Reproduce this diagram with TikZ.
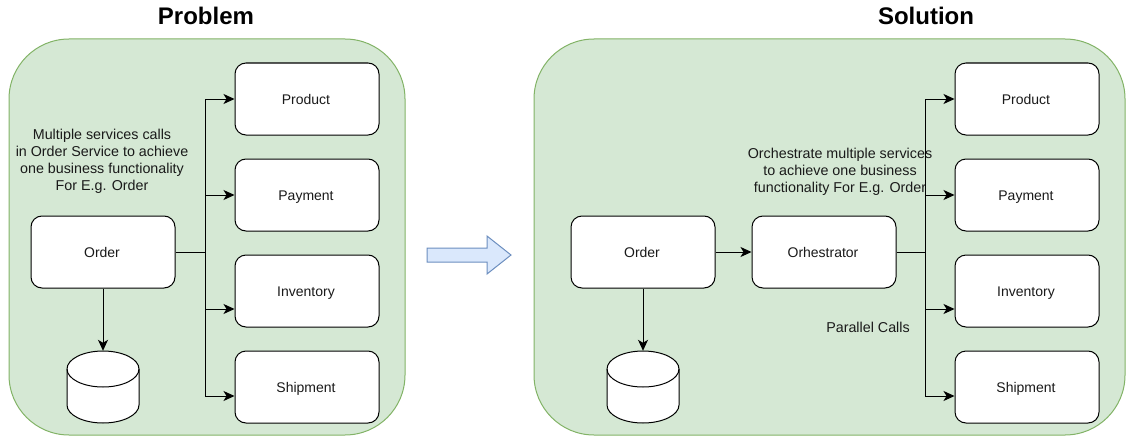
\documentclass[tikz,border=0pt]{standalone}
\usepackage{fontspec}
\setmainfont{Liberation Sans}
\usetikzlibrary{arrows.meta}
\definecolor{panelGreen}{HTML}{D5E8D4}
\definecolor{panelEdge}{HTML}{82B366}
\definecolor{arrowBlue}{HTML}{DAE8FC}
\definecolor{arrowEdge}{HTML}{6C8EBF}
\definecolor{labelGray}{HTML}{1A1A1A}
\tikzset{
  panel/.style={draw=panelEdge,fill=panelGreen,line width=1pt,rounded corners=60pt},
  svcbox/.style={draw=black,fill=white,line width=1pt,rounded corners=11pt,minimum width=144pt,minimum height=72pt,inner sep=0pt,text height=13pt,text depth=2pt,text=labelGray,font=\fontsize{14pt}{17pt}\selectfont,execute at end node={\kern2pt}},
  dbbox/.style={minimum width=72pt,minimum height=72pt,inner sep=0pt},
  dbdrum/.style={draw=black,fill=white,line width=1pt},
  note/.style={align=center,inner sep=0pt,text=labelGray,font=\fontsize{14.3pt}{17pt}\selectfont},
  heading/.style={inner sep=0pt,font=\fontsize{24pt}{28pt}\selectfont\bfseries},
  flow/.style={draw=black,line width=1pt,-{Stealth[length=11pt,width=10pt,inset=3pt]}},
  trunk/.style={draw=black,line width=1pt}
}
\newcommand{\drawdrum}[1]{%
  \begin{scope}[shift={(#1.center)},x=1pt,y=1pt]
    \path[dbdrum] (-36,18) arc[start angle=180,end angle=0,x radius=36,y radius=18] -- (36,-18) arc[start angle=0,end angle=-180,x radius=36,y radius=18] -- cycle;
    \draw[dbdrum,fill=none] (-36,18) arc[start angle=180,end angle=360,x radius=36,y radius=18];
  \end{scope}}

\begin{document}
\begin{tikzpicture}[x=1pt,y=-1pt]
  \useasboundingbox (0,0) rectangle (1126,436);

  %% problem side
  \node[heading] (problemTitle) at (206,16) {Problem};
  \draw[panel] (9,39) rectangle (405,435);

  \node[svcbox] (productA) at (307,99) {Product};
  \node[svcbox] (paymentA) at (307,195) {Payment};
  \node[svcbox] (inventoryA) at (307,291) {Inventory};
  \node[svcbox] (shipmentA) at (307,387) {Shipment};
  \node[svcbox] (orderA) at (103,252) {Order};
  \node[dbbox] (dbA) at (103,387) {};
  \drawdrum{dbA}
  \node[note] (noteA) at (102,161) {Multiple services calls\\in Order Service to achieve\\one business functionality\\For E.g. Order};

  \coordinate (busA) at (205,252);
  \draw[trunk] (orderA.east) -- (busA);
  \draw[flow] (busA) |- (productA.west);
  \draw[flow] (busA) |- (paymentA.west);
  \draw[flow] (busA) |- ([yshift=-18pt]inventoryA.west);
  \draw[flow] (busA) |- ([yshift=-9pt]shipmentA.west);
  \draw[flow] (orderA.south) -- (dbA.north);

  %% big arrow between the sides
  \draw[draw=arrowEdge,fill=arrowBlue,line width=1pt] (427,248) -- (487,248) -- (487,236) -- (511,255) -- (487,274) -- (487,262) -- (427,262) -- cycle;

  %% solution side
  \node[heading] (solutionTitle) at (926,16) {Solution};
  \draw[panel] (534,39) rectangle (1125,435);

  \node[svcbox] (productB) at (1027,99) {Product};
  \node[svcbox] (paymentB) at (1027,195) {Payment};
  \node[svcbox] (inventoryB) at (1027,291) {Inventory};
  \node[svcbox] (shipmentB) at (1027,387) {Shipment};
  \node[svcbox] (orderB) at (643,252) {Order};
  \node[svcbox] (orchestrator) at (824,252) {Orhestrator};
  \node[dbbox] (dbB) at (643,387) {};
  \drawdrum{dbB}
  \node[note] (noteB) at (840,172) {Orchestrate multiple services\\to achieve one business\\functionality For E.g. Order};
  \node[note] (parallelNote) at (868,327) {Parallel Calls};

  \coordinate (busB) at (925,252);
  \draw[flow] (orderB.east) -- (orchestrator.west);
  \draw[trunk] (orchestrator.east) -- (busB);
  \draw[flow] (busB) |- (productB.west);
  \draw[flow] (busB) |- (paymentB.west);
  \draw[flow] (busB) |- ([yshift=-18pt]inventoryB.west);
  \draw[flow] (busB) |- ([yshift=-9pt]shipmentB.west);
  \draw[flow] (orderB.south) -- (dbB.north);
\end{tikzpicture}
\end{document}
